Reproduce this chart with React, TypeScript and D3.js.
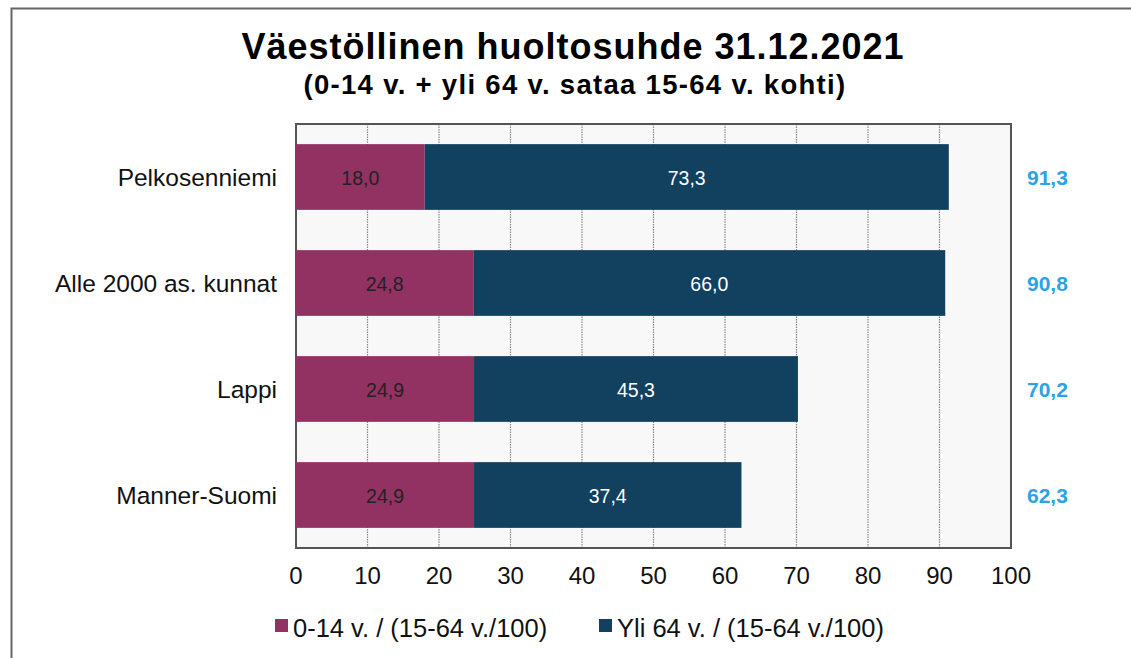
import React, { useEffect, useRef } from 'react';
import * as d3 from 'd3';

const categories = ['Pelkosenniemi', 'Alle 2000 as. kunnat', 'Lappi', 'Manner-Suomi'];
const youngValues = [18.0, 24.8, 24.9, 24.9];
const oldValues = [73.3, 66.0, 45.3, 37.4];
const totalValues = [91.3, 90.8, 70.2, 62.3];
const xTicks = [0, 10, 20, 30, 40, 50, 60, 70, 80, 90, 100];
const seriesNames = ['0-14 v. / (15-64 v./100)', 'Yli 64 v. / (15-64 v./100)'];

const fmt = (v: number) => v.toFixed(1).replace('.', ',');

const App = () => {
  const svgRef = useRef<SVGSVGElement>(null);

  useEffect(() => {
    const svg = d3.select(svgRef.current);
    svg.selectAll('*').remove();

    const W = 1131;
    const H = 658;
    const font = '"Liberation Sans", Arial, sans-serif';
    const pink = '#913263';
    const navy = '#12405f';

    svg.attr('width', W).attr('height', H).style('font-family', font);

    // outer frame (cropped at right/bottom)
    svg.append('rect')
      .attr('x', 11.5).attr('y', 8.5)
      .attr('width', W + 20).attr('height', H + 20)
      .attr('fill', '#fff')
      .attr('stroke', '#666').attr('stroke-width', 2);

    // titles
    svg.append('text')
      .attr('x', 573).attr('y', 59)
      .attr('text-anchor', 'middle')
      .style('font-size', '36px').style('font-weight', 'bold')
      .style('letter-spacing', '1px').attr('fill', '#000')
      .text('Väestöllinen huoltosuhde 31.12.2021');
    svg.append('text')
      .attr('x', 575).attr('y', 94)
      .attr('text-anchor', 'middle')
      .style('font-size', '27.5px').style('font-weight', 'bold')
      .style('letter-spacing', '1.3px').attr('fill', '#000')
      .text('(0-14 v. + yli 64 v. sataa 15-64 v. kohti)');

    const left = 296, right = 1011, top = 124, bottom = 548;

    const x = d3.scaleLinear().domain([0, 100]).range([left, right]);
    const y = d3.scaleBand().domain(categories).range([top, bottom]).paddingInner(0.38).paddingOuter(0.19);

    // plot background
    svg.append('rect')
      .attr('x', left).attr('y', top)
      .attr('width', right - left).attr('height', bottom - top)
      .attr('fill', '#f8f8f8');

    // grid
    svg.selectAll('.grid')
      .data(xTicks.filter(t => t > 0 && t < 100))
      .enter().append('line')
      .attr('x1', d => x(d)).attr('x2', d => x(d))
      .attr('y1', top).attr('y2', bottom)
      .attr('stroke', '#8a8a8a').attr('stroke-width', 1.2)
      .attr('stroke-dasharray', '1.5,1');

    // plot border
    svg.append('rect')
      .attr('x', left).attr('y', top)
      .attr('width', right - left).attr('height', bottom - top)
      .attr('fill', 'none')
      .attr('stroke', '#555').attr('stroke-width', 2);

    // bars
    categories.forEach((c, i) => {
      const y0 = y(c) as number;
      const bh = y.bandwidth();
      const cy = y0 + bh / 2;
      svg.append('rect')
        .attr('x', x(0)).attr('y', y0)
        .attr('width', x(youngValues[i]) - x(0)).attr('height', bh)
        .attr('fill', pink);
      svg.append('rect')
        .attr('x', x(youngValues[i])).attr('y', y0)
        .attr('width', x(youngValues[i] + oldValues[i]) - x(youngValues[i])).attr('height', bh)
        .attr('fill', navy);

      svg.append('text')
        .attr('x', x(youngValues[i] / 2)).attr('y', cy + 7.5)
        .attr('text-anchor', 'middle')
        .style('font-size', '19.5px').attr('fill', '#222')
        .text(fmt(youngValues[i]));
      svg.append('text')
        .attr('x', x(youngValues[i] + oldValues[i] / 2)).attr('y', cy + 7.5)
        .attr('text-anchor', 'middle')
        .style('font-size', '19.5px').attr('fill', '#fff')
        .text(fmt(oldValues[i]));

      // totals
      svg.append('text')
        .attr('x', 1027).attr('y', cy + 7.5)
        .style('font-size', '21px').style('font-weight', 'bold').attr('fill', '#2ba3e6')
        .text(fmt(totalValues[i]));

      // category labels
      svg.append('text')
        .attr('x', 277).attr('y', cy + 8.5)
        .attr('text-anchor', 'end')
        .style('font-size', '24.5px').attr('fill', '#111')
        .text(c);
    });

    // x tick labels
    svg.selectAll('.tick-label')
      .data(xTicks)
      .enter().append('text')
      .attr('x', d => x(d)).attr('y', 584)
      .attr('text-anchor', 'middle')
      .style('font-size', '24px').attr('fill', '#111')
      .text(d => String(d));

    // legend
    const legendX = [275, 599];
    seriesNames.forEach((name, i) => {
      svg.append('rect')
        .attr('x', legendX[i]).attr('y', 619)
        .attr('width', 13).attr('height', 13)
        .attr('fill', i === 0 ? pink : navy);
      svg.append('text')
        .attr('x', legendX[i] + 18).attr('y', 637)
        .style('font-size', '25.5px').attr('fill', '#111')
        .text(name);
    });
  }, []);

  return (
    <div style={{ position: 'absolute', left: 0, top: 0 }}>
      <svg ref={svgRef}></svg>
    </div>
  );
};

export default App;
